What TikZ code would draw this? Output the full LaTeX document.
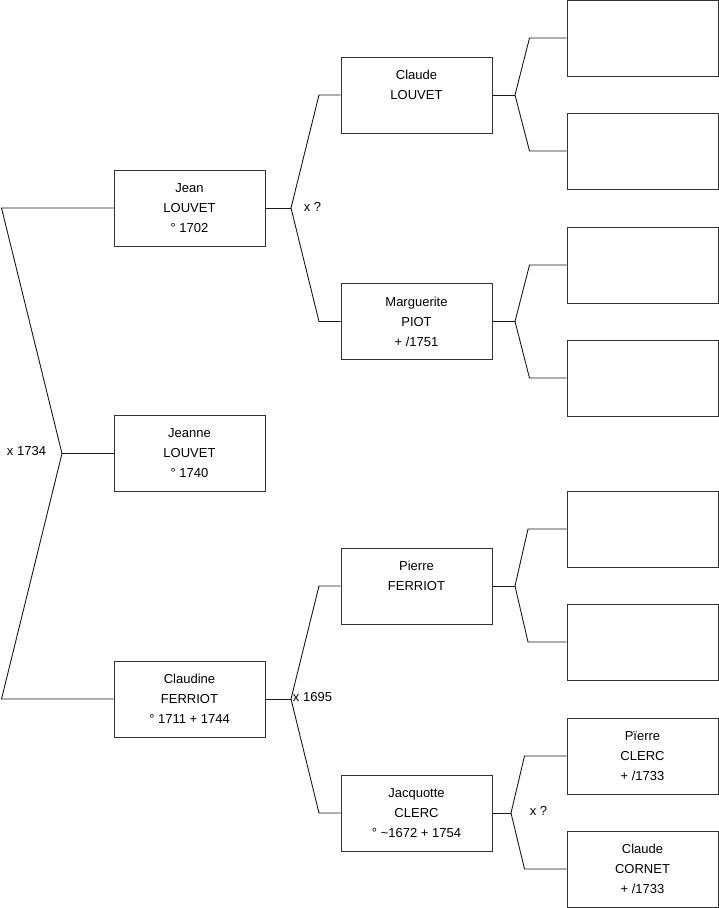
\documentclass[tikz,border=0pt]{standalone}
\usepackage{fontspec}
\setmainfont{Liberation Sans}

\begin{document}
\begin{tikzpicture}[x=1pt, y=-1pt, font=\fontsize{13}{20}\selectfont,
    person/.style={draw=black!80, line width=1pt, minimum width=151pt,
      minimum height=76pt, align=center, inner sep=0pt},
    link/.style={draw=black!90, line width=0.9pt},
    union/.style={inner sep=1pt}]

    \useasboundingbox (0,0) rectangle (719,908);

    %% ── Child ─────────────────────────────────────────────────────────────
    \node[person] (jean)     at (189.5,208)   {Jean\\LOUVET\\° 1702};
    \node[person] (jeanne)   at (189.5,453.5) {Jeanne\\LOUVET\\° 1740};
    \node[person] (claudine) at (189.5,699)   {Claudine\\FERRIOT\\° 1711 + 1744};

    %% ── Parents ───────────────────────────────────────────────────────────
    \node[person] (claude)     at (416.5,95)    {Claude\\LOUVET\\\mbox{}};
    \node[person] (marguerite) at (416.5,321.5) {Marguerite\\PIOT\\+ /1751};
    \node[person] (pierre)     at (416.5,586)   {Pierre\\FERRIOT\\\mbox{}};
    \node[person] (jacquotte)  at (416.5,813)   {Jacquotte\\CLERC\\° \textasciitilde1672 + 1754};

    %% ── Grandparents ──────────────────────────────────────────────────────
    \node[person] (g1) at (642.5,38)  {};
    \node[person] (g2) at (642.5,151) {};
    \node[person] (g3) at (642.5,265) {};
    \node[person] (g4) at (642.5,378) {};
    \node[person] (g5) at (642.5,529) {};
    \node[person] (g6) at (642.5,642) {};
    \node[person] (g7) at (642.5,756) {Pïerre\\CLERC\\+ /1733};
    \node[person] (g8) at (642.5,869) {Claude\\CORNET\\+ /1733};

    %% ── Joints ────────────────────────────────────────────────────────────
    \coordinate (lt) at (1.5,208);
    \coordinate (lm) at (62,453.5);
    \coordinate (lb) at (1.5,699);

    \coordinate (jm) at (291,208);
    \coordinate (ja) at (319,95);
    \coordinate (jb) at (319,321.5);

    \coordinate (cm) at (291,699);
    \coordinate (ca) at (319,586);
    \coordinate (cb) at (319,813);

    \coordinate (km) at (515,95);
    \coordinate (ka) at (529.5,38);
    \coordinate (kb) at (529.5,151);

    \coordinate (mm) at (515,321.5);
    \coordinate (ma) at (529.5,265);
    \coordinate (mb) at (529.5,378);

    \coordinate (pm) at (515,586);
    \coordinate (pa) at (528,529);
    \coordinate (pb) at (528,642);

    \coordinate (qm) at (511,813);
    \coordinate (qa) at (524.5,756);
    \coordinate (qb) at (524.5,869);

    %% ── Connectors ────────────────────────────────────────────────────────
    \draw[link] (jean.west) -- (lt) -- (lm) -- (lb) -- (claudine.west);
    \draw[link] (lm) -- (jeanne.west);

    \draw[link] (jean.east) -- (jm);
    \draw[link] (claude.west) -- (ja) -- (jm) -- (jb) -- (marguerite.west);

    \draw[link] (claudine.east) -- (cm);
    \draw[link] (pierre.west) -- (ca) -- (cm) -- (cb) -- (jacquotte.west);

    \draw[link] (claude.east) -- (km);
    \draw[link] (g1.west) -- (ka) -- (km) -- (kb) -- (g2.west);

    \draw[link] (marguerite.east) -- (mm);
    \draw[link] (g3.west) -- (ma) -- (mm) -- (mb) -- (g4.west);

    \draw[link] (pierre.east) -- (pm);
    \draw[link] (g5.west) -- (pa) -- (pm) -- (pb) -- (g6.west);

    \draw[link] (jacquotte.east) -- (qm);
    \draw[link] (g7.west) -- (qa) -- (qm) -- (qb) -- (g8.west);

    %% ── Marriages ─────────────────────────────────────────────────────────
    \node[union] (x1734) at (26.5,451)  {x 1734};
    \node[union] (xjean) at (312.5,207) {x ?};
    \node[union] (x1695) at (312.5,697) {x 1695};
    \node[union] (xjacq) at (538.5,811) {x ?};

\end{tikzpicture}
\end{document}
